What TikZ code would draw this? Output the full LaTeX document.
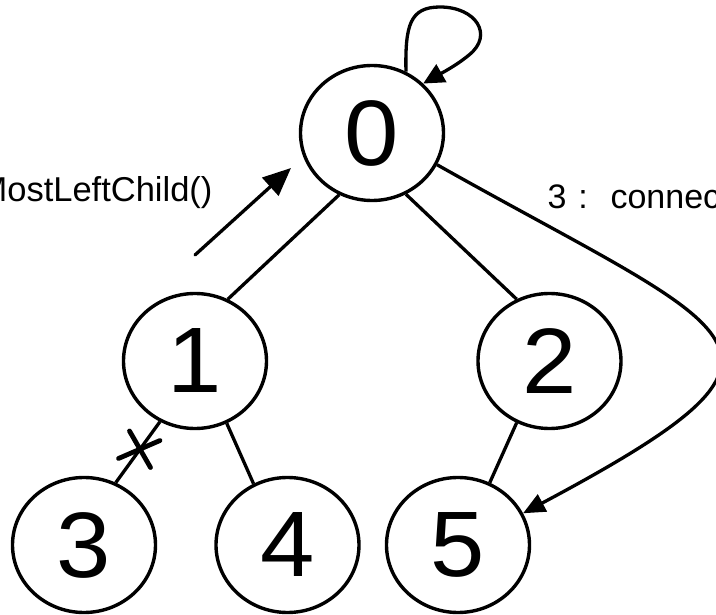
\documentclass[tikz,border=0pt]{standalone}
\usepackage{graphicx}
\usepackage{fontspec}
\setmainfont{Liberation Sans}
\usetikzlibrary{arrows.meta,shapes.geometric}
\begin{document}
\begin{tikzpicture}[x=1pt,y=-1pt,
  tn/.style={draw, ellipse, line width=3.4pt, minimum width=143pt, minimum height=135pt,
    inner sep=0pt, font=\fontsize{93}{93}\selectfont},
  edge/.style={line width=3.3pt},
  arrbig/.style={line width=3.3pt, line cap=round, -{Triangle[length=28pt,width=24pt]}},
  arrmid/.style={line width=3.3pt, -{Triangle[length=22pt,width=19pt]}},
  arrloop/.style={line width=3.3pt, -{Triangle[length=21pt,width=20pt]}},
  crossmark/.style={line width=4.8pt, line cap=round},
  lbl/.style={inner sep=0pt}]
\useasboundingbox (0,0) rectangle (716,615);
\clip (0,0) rectangle (716,615);

% nodes
\node[tn] (n0) at (372,133) {\scalebox{1.05}[1]{0}};
\node[tn] (n1) at (195,361) {\scalebox{1.05}[1]{1}};
\node[tn] (n2) at (549.5,361) {\scalebox{1.05}[1]{2}};
\node[tn] (n3) at (84,545) {\scalebox{1.05}[1]{3}};
\node[tn] (n4) at (287.5,545) {\scalebox{1.05}[1]{4}};
\node[tn] (n5) at (458,545) {\scalebox{1.05}[1]{5}};

% labels
\node[lbl, anchor=base west, font=\fontsize{34.5}{34.5}\selectfont] (lblA) at (-21.6,202)
  {MostLeftChild()};
\node[lbl, anchor=base west, font=\fontsize{34}{34}\selectfont] (lblB) at (547.5,209)
  {3 \hspace{2.4pt}: \hspace{10.1pt}connect};

% tree edges
\draw[edge] (n0.242) -- (n1.62);
\draw[edge] (n0.-61) -- (n2.118);
\draw[edge] (n1.240) -- (n3.63);
\draw[edge] (n1.-63) -- (n4.119);
\draw[edge] (n2.-118) -- (n5.63);

% cut mark on edge 1-3
\coordinate (cA1) at (118.5,458.5);
\coordinate (cA2) at (160,440.5);
\coordinate (cB1) at (129.5,431);
\coordinate (cB2) at (150.5,467.5);
\draw[crossmark] (cA1) -- (cA2) (cB1) -- (cB2);

% MostLeftChild arrow
\coordinate (mlcA) at (195,255);
\coordinate (mlcB) at (291,168);
\draw[arrbig] (mlcA) -- (mlcB);

% self loop on 0
\draw[arrloop] (n0.61) .. controls (405,25) and (410,7) .. (440,7)
  .. controls (476,7) and (494,35) .. (469,55)
  .. controls (456,65.8) and (440,74) .. (n0.44);

% connection 0 -> 5
\draw[arrmid] (n0.-26) .. controls +(309,174) and +(313,-167) .. (n5.26);
\end{tikzpicture}
\end{document}
